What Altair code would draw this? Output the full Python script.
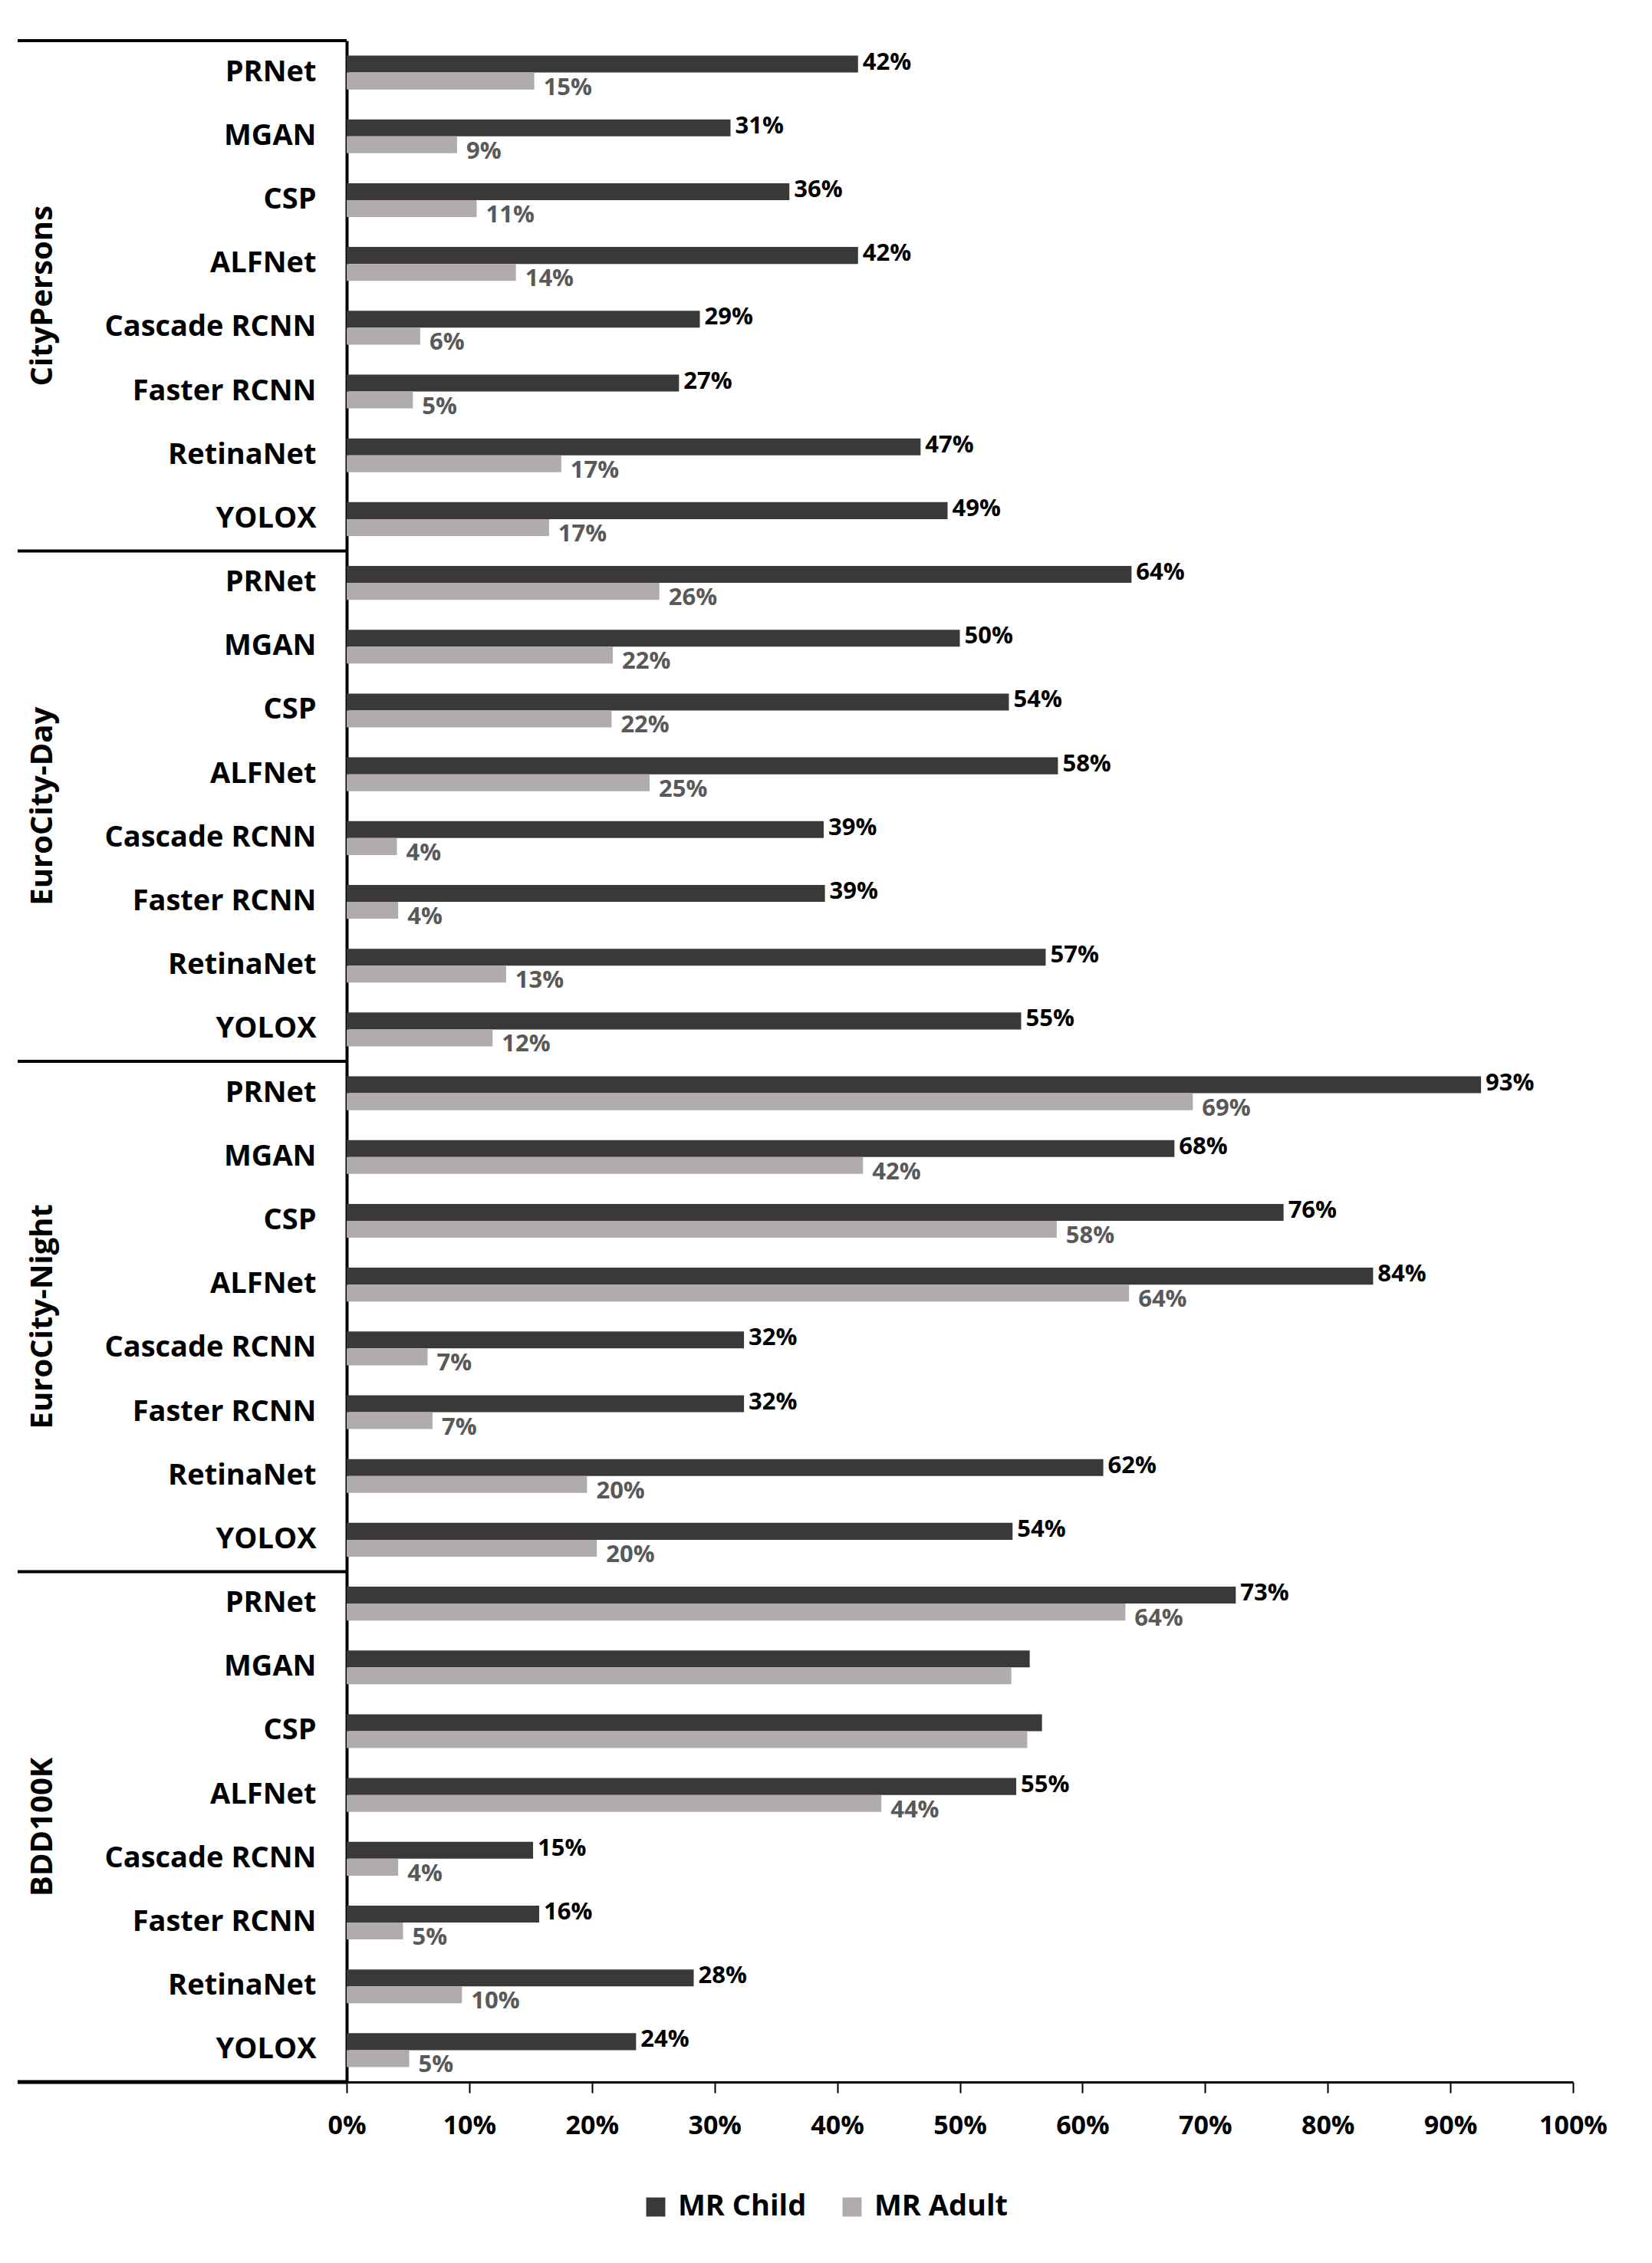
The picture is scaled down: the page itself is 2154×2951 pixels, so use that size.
import altair as alt
import pandas as pd

groups = ["CityPersons", "EuroCity-Day", "EuroCity-Night", "BDD100K"]
methods = ["PRNet", "MGAN", "CSP", "ALFNet", "Cascade RCNN", "Faster RCNN", "RetinaNet", "YOLOX"]
series_names = ["MR Child", "MR Adult"]

# MR values (%)
child_values = [
    [41.7, 31.3, 36.1, 41.7, 28.8, 27.1, 46.8, 49.0],
    [64.0, 50.0, 54.0, 58.0, 38.9, 39.0, 57.0, 55.0],
    [92.5, 67.5, 76.4, 83.7, 32.4, 32.4, 61.7, 54.3],
    [72.5, 55.7, 56.7, 54.6, 15.2, 15.7, 28.3, 23.6],
]
adult_values = [
    [15.3, 9.0, 10.6, 13.8, 6.0, 5.4, 17.5, 16.5],
    [25.5, 21.7, 21.6, 24.7, 4.1, 4.2, 13.0, 11.9],
    [69.0, 42.1, 57.9, 63.8, 6.6, 7.0, 19.6, 20.4],
    [63.5, 54.2, 55.5, 43.6, 4.2, 4.6, 9.4, 5.1],
]
# data labels as printed on the chart
child_labels = [
    ["42%", "31%", "36%", "42%", "29%", "27%", "47%", "49%"],
    ["64%", "50%", "54%", "58%", "39%", "39%", "57%", "55%"],
    ["93%", "68%", "76%", "84%", "32%", "32%", "62%", "54%"],
    ["73%", "", "", "55%", "15%", "16%", "28%", "24%"],
]
adult_labels = [
    ["15%", "9%", "11%", "14%", "6%", "5%", "17%", "17%"],
    ["26%", "22%", "22%", "25%", "4%", "4%", "13%", "12%"],
    ["69%", "42%", "58%", "64%", "7%", "7%", "20%", "20%"],
    ["64%", "", "", "44%", "4%", "5%", "10%", "5%"],
]
x_ticks = list(range(0, 101, 10))

rows = []
for g, cv, av, cl, al in zip(groups, child_values, adult_values, child_labels, adult_labels):
    for m, c, a, lc, la in zip(methods, cv, av, cl, al):
        key = f"{g}|{m}"
        rows.append(dict(key=key, series=series_names[0], value=c, label=lc))
        rows.append(dict(key=key, series=series_names[1], value=a, label=la))
df = pd.DataFrame(rows)
keys = [f"{g}|{m}" for g in groups for m in methods]

W = 1599
H = 2662
STEP = H / len(keys)
PI = 0.47
BAR = STEP * (1 - PI) / 2
GAP = STEP * PI / 2  # distance from band start to row boundary
LEFT = -429
FONT = "Open Sans"

yscale = alt.Scale(paddingInner=PI, paddingOuter=PI / 2)
yaxis = alt.Axis(
    title=None,
    labelExpr="split(datum.label, '|')[1]",
    labelFont=FONT,
    labelFontWeight="bold",
    labelFontSize=38,
    labelColor="black",
    labelPadding=40,
    labelLimit=600,
    ticks=False,
    domainColor="black",
    domainWidth=4,
)


def ych():
    return alt.Y("key:N", sort=keys, scale=yscale, axis=yaxis)


xenc = alt.X(
    "value:Q",
    scale=alt.Scale(domain=[0, 100], nice=False),
    axis=alt.Axis(
        title=None,
        values=x_ticks,
        labelExpr="datum.value + '%'",
        grid=False,
        tickSize=14,
        tickWidth=2,
        tickColor="black",
        domainColor="black",
        domainWidth=3,
        labelFont=FONT,
        labelFontWeight="bold",
        labelFontSize=34,
        labelColor="black",
        labelPadding=26,
        labelFlush=False,
    ),
)

bars = alt.Chart(df).mark_bar().encode(
    y=ych(),
    yOffset=alt.YOffset("series:N", sort=series_names),
    x=xenc,
    color=alt.Color(
        "series:N",
        scale=alt.Scale(domain=series_names, range=["#3b3938", "#afacab"]),
        legend=alt.Legend(
            title=None,
            orient="none",
            legendX=384,
            legendY=2806,
            direction="horizontal",
            symbolType="square",
            symbolSize=620,
            symbolStrokeWidth=0,
            labelFont=FONT,
            labelFontWeight="bold",
            labelFontSize=38,
            labelColor="black",
            labelOffset=10,
            labelLimit=400,
            columnPadding=40,
        ),
    ),
)

child_text = alt.Chart(df).transform_filter(
    alt.datum.series == series_names[0]
).mark_text(
    align="left", baseline="middle", dx=6, font=FONT, fontWeight="bold", fontSize=31, color="black"
).encode(
    y=ych(), x=alt.X("value:Q"), text="label:N", yOffset=alt.value(BAR / 2 - 2)
)

adult_text = alt.Chart(df).transform_filter(
    alt.datum.series == series_names[1]
).mark_text(
    align="left", baseline="middle", dx=12, font=FONT, fontWeight="bold", fontSize=31, color="#595959"
).encode(
    y=ych(), x=alt.X("value:Q"), text="label:N", yOffset=alt.value(1.5 * BAR + 9)
)

sep_df = pd.DataFrame({"key": [f"{g}|{methods[0]}" for g in groups[1:]]})
seps = alt.Chart(sep_df).mark_rule(color="black", strokeWidth=4).encode(
    y=ych(), yOffset=alt.value(-GAP), x=alt.value(LEFT), x2=alt.value(0)
)

one = pd.DataFrame({"a": [0]})
top_line = alt.Chart(one).mark_rule(color="black", strokeWidth=4).encode(
    y=alt.value(0), x=alt.value(LEFT), x2=alt.value(0)
)
bottom_line = alt.Chart(one).mark_rule(color="black", strokeWidth=5).encode(
    y=alt.value(H), x=alt.value(LEFT), x2=alt.value(0)
)

gl_df = pd.DataFrame({"group": groups, "key": [f"{g}|{methods[3]}" for g in groups]})
group_labels = alt.Chart(gl_df).mark_text(
    angle=270, align="center", baseline="middle", font=FONT, fontWeight="bold", fontSize=40, color="black"
).encode(
    y=ych(), yOffset=alt.value(STEP - GAP), x=alt.value(-396), text="group:N"
)

chart = alt.layer(
    bars, child_text, adult_text, seps, top_line, bottom_line, group_labels
).properties(
    width=W,
    height=H,
    autosize=alt.AutoSizeParams(type="none"),
    padding={"left": 444, "top": 45, "right": 95, "bottom": 228},
    background="white",
).configure_view(stroke=None)

chart.save("out.html", embed_options={"renderer": "svg", "actions": False})
